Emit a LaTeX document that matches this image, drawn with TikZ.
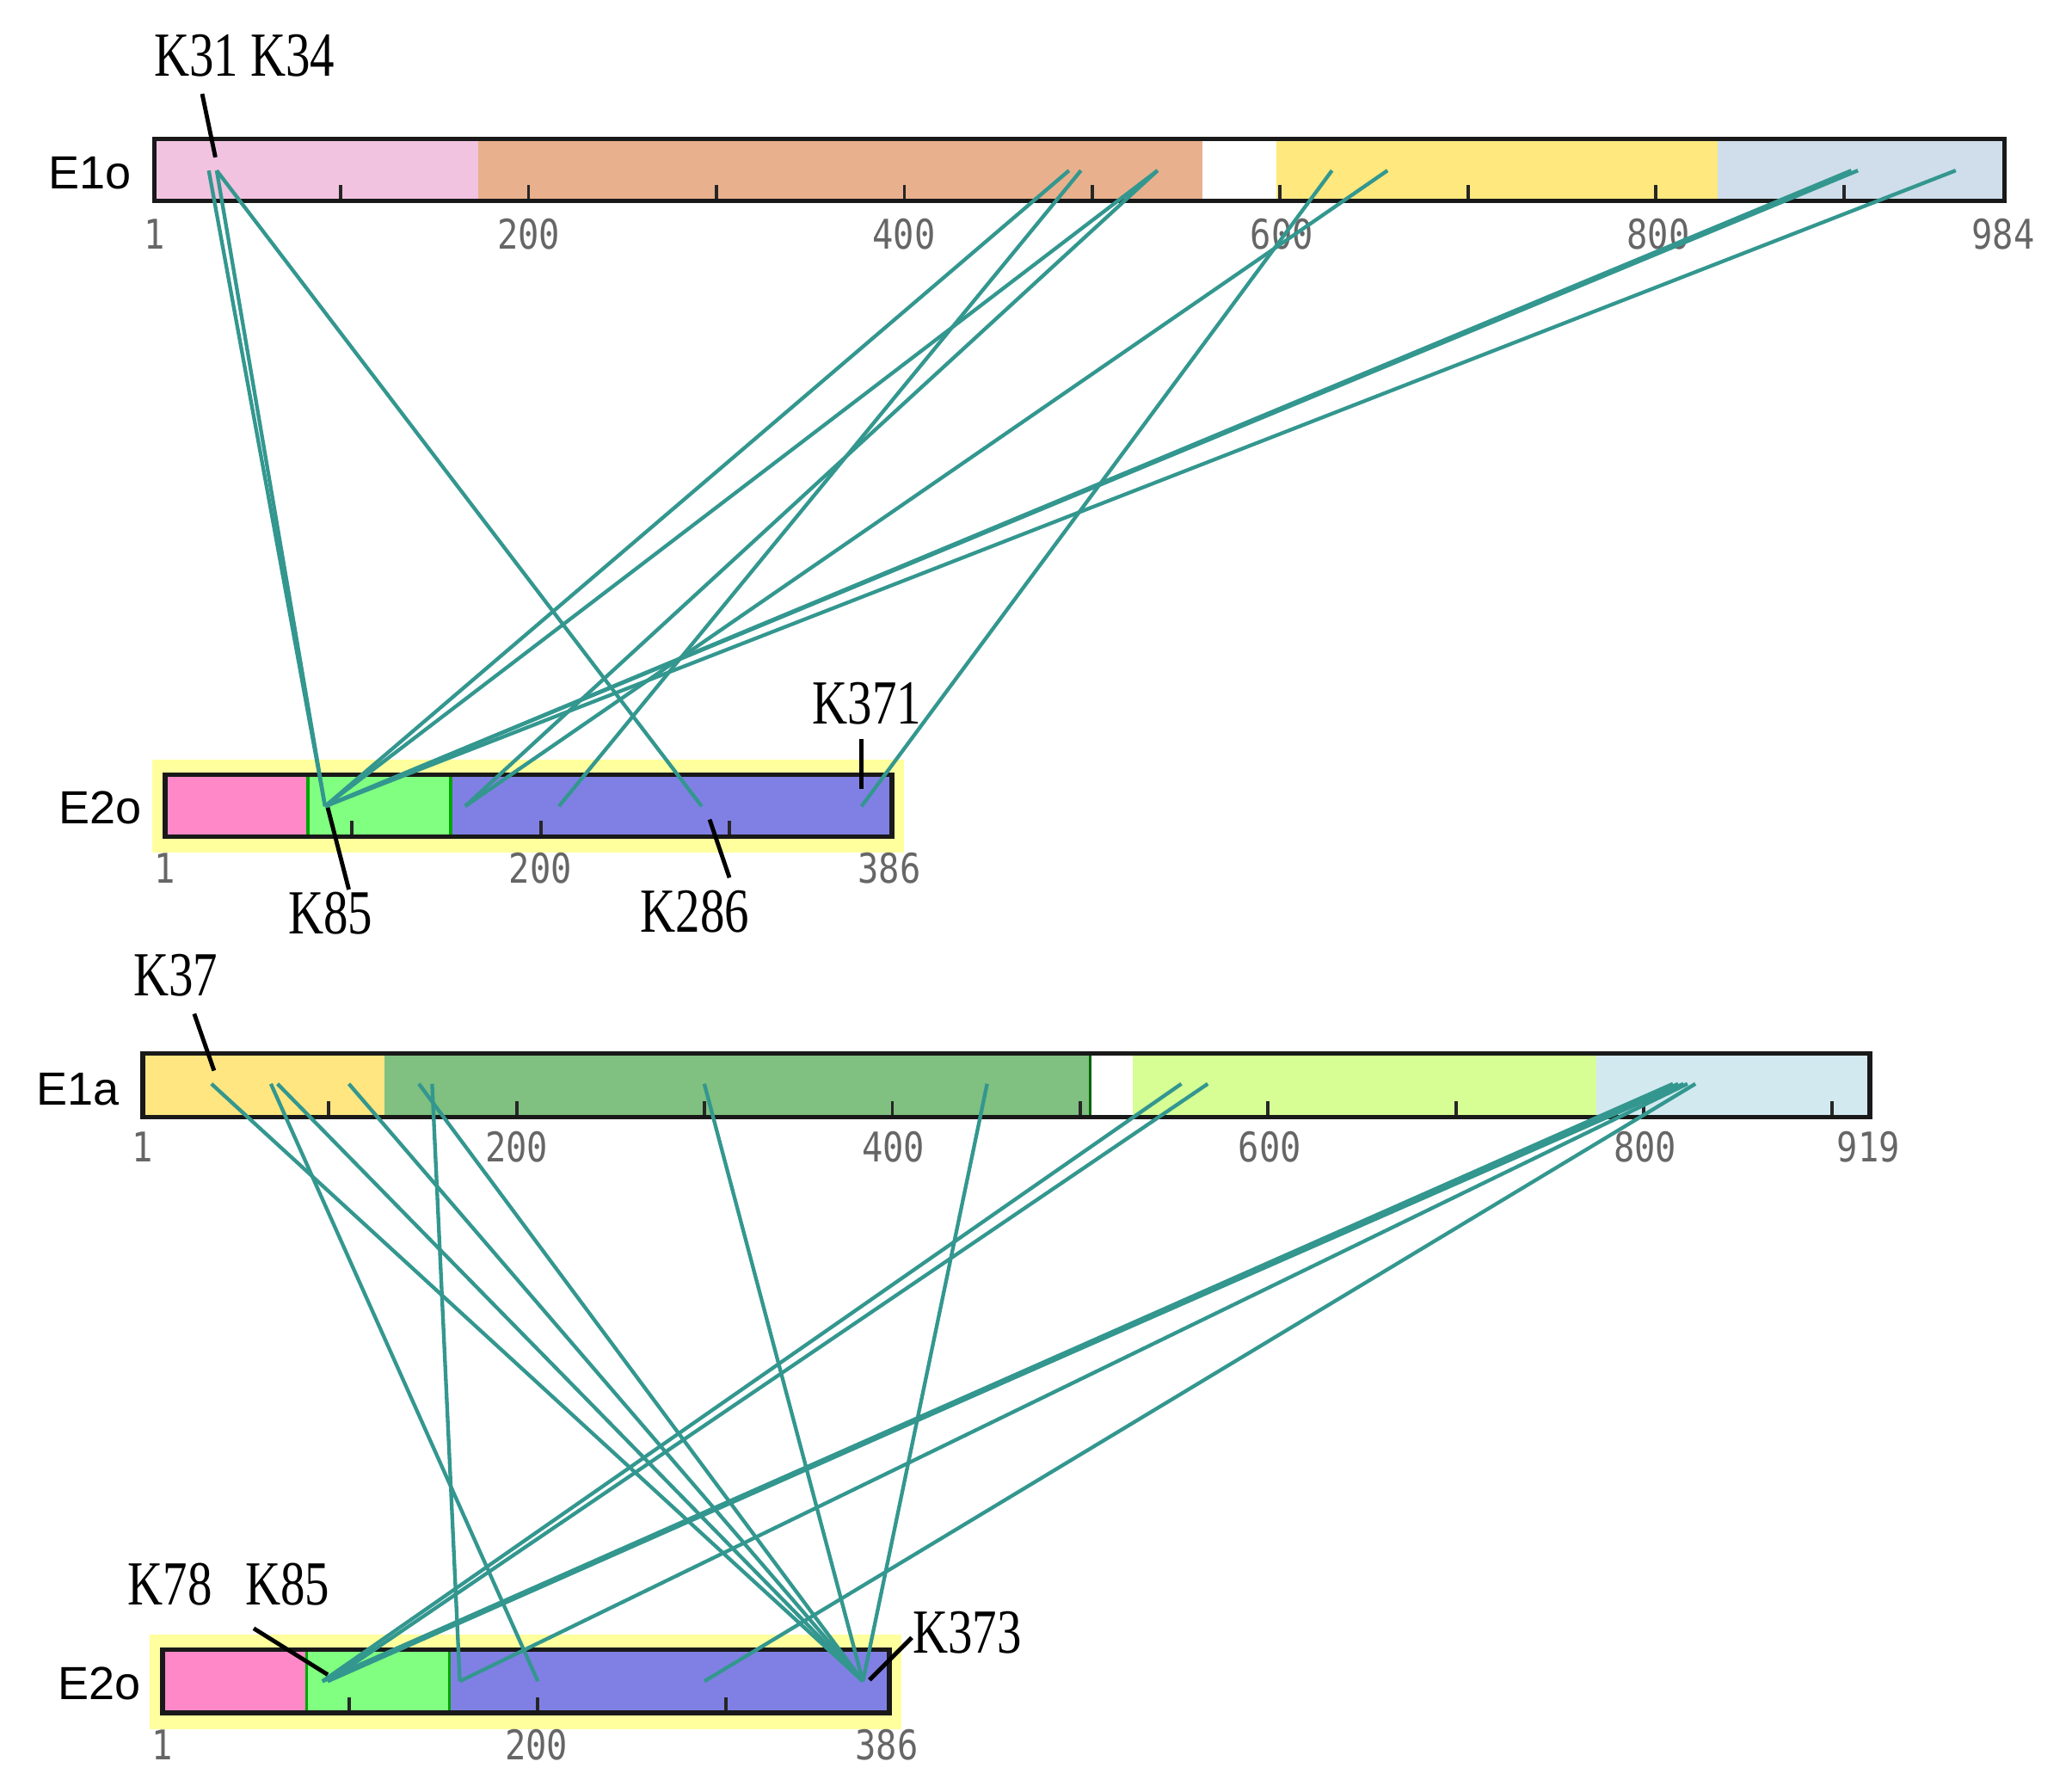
\documentclass[tikz,border=0pt]{standalone}
\usepackage{fontspec}
\setmainfont{Liberation Sans}
\newfontfamily\klabfont[FakeStretch=0.78]{Liberation Serif}
\newfontfamily\numfont[FakeStretch=0.85]{DejaVu Sans Mono}
\usepackage{tikz}
\definecolor{linkteal}{HTML}{33978F}
\definecolor{opink}{HTML}{F2C3E0}
\definecolor{oorange}{HTML}{E8B08C}
\definecolor{oyellow}{HTML}{FFE87E}
\definecolor{oblue}{HTML}{CFDEEA}
\definecolor{epink}{HTML}{FF88C8}
\definecolor{egreen}{HTML}{80FF80}
\definecolor{eblue}{HTML}{8080E4}
\definecolor{ehigh}{HTML}{FFFF9E}
\definecolor{ayellow}{HTML}{FFE680}
\definecolor{agreen}{HTML}{80C080}
\definecolor{alime}{HTML}{D6FE94}
\definecolor{ablue}{HTML}{D2E9F0}

\begin{document}
\begin{tikzpicture}[x=0.01cm,y=-0.01cm,
    bar/.style={draw=black!90,line width=1pt},
    tick/.style={black!85,line width=0.7pt},
    num/.style={text=black!60,font=\numfont\fontsize{8.8}{9}\selectfont,inner sep=0pt},
    chain/.style={font=\fontsize{10}{11}\selectfont,inner sep=0pt},
    klab/.style={font=\klabfont\fontsize{13.5}{14}\selectfont,inner sep=0pt},
    link/.style={draw=linkteal,line width=0.8pt},
    pointer/.style={draw=black,line width=0.9pt}]
  \useasboundingbox (0,0) rectangle (1568,1351);

  \fill[opink] (117,105) rectangle (362,152);
  \fill[oorange] (362,105) rectangle (910,152);
  \fill[white] (910,105) rectangle (966,152);
  \fill[oyellow] (966,105) rectangle (1300,152);
  \fill[oblue] (1300,105) rectangle (1517,152);
  \foreach \k in {1,...,9} \draw[tick] ({117+(100*\k-1)*1.422},152) -- ++(0,-12);
  \draw[bar] (117,105) rectangle (1517,152);

  \fill[ehigh] (115,575) rectangle (684,645);
  \fill[epink] (125,586) rectangle (233,633);
  \fill[egreen] (233,586) rectangle (341,633);
  \fill[eblue] (341,586) rectangle (675,633);
  \draw[green!65!black,line width=0.6pt] (233,586) -- (233,633) (341,586) -- (341,633);
  \foreach \k in {1,2,3} \draw[tick] ({125+(100*\k-1)*1.4286},633) -- ++(0,-12);
  \draw[bar] (125,586) rectangle (675,633);

  \fill[ayellow] (108,797) rectangle (291,845);
  \fill[agreen] (291,797) rectangle (825,845);
  \fill[white] (825,797) rectangle (857,845);
  \fill[alime] (857,797) rectangle (1208,845);
  \fill[ablue] (1208,797) rectangle (1415,845);
  \draw[green!40!black,line width=0.6pt] (825,797) -- (825,845);
  \foreach \k in {1,...,9} \draw[tick] ({108+(100*\k-1)*1.4218},845) -- ++(0,-12);
  \draw[bar] (108,797) rectangle (1415,845);

  \fill[ehigh] (113,1237) rectangle (682,1308);
  \fill[epink] (123,1248) rectangle (232,1296);
  \fill[egreen] (232,1248) rectangle (340,1296);
  \fill[eblue] (340,1248) rectangle (673,1296);
  \draw[green!65!black,line width=0.6pt] (232,1248) -- (232,1296) (340,1248) -- (340,1296);
  \foreach \k in {1,2,3} \draw[tick] ({123+(100*\k-1)*1.426},1296) -- ++(0,-12);
  \draw[bar] (123,1248) rectangle (673,1296);

  \node[chain] (e1o) at (68,131) {E1o};
  \node[chain] (e2o) at (76,611) {E2o};
  \node[chain] (e1a) at (59,824) {E1a};
  \node[chain] (e2ob) at (75,1274) {E2o};

  \node[num] (o1) at (117,177) {1};
  \node[num] (o200) at (400,177) {200};
  \node[num] (o400) at (684,177) {400};
  \node[num] (o600) at (970,177) {600};
  \node[num] (o800) at (1255,177) {800};
  \node[num] (o984) at (1516,177) {984};
  \node[num] (p1) at (125,657) {1};
  \node[num] (p200) at (409,657) {200};
  \node[num] (p386) at (673,657) {386};
  \node[num] (a1) at (108,868) {1};
  \node[num] (a200) at (391,868) {200};
  \node[num] (a400) at (676,868) {400};
  \node[num] (a600) at (961,868) {600};
  \node[num] (a800) at (1245,868) {800};
  \node[num] (a919) at (1414,868) {919};
  \node[num] (q1) at (123,1320) {1};
  \node[num] (q200) at (406,1320) {200};
  \node[num] (q386) at (671,1320) {386};

  \coordinate (so31) at (158,129);
  \coordinate (so34) at (164,129);
  \coordinate (so488) at (809,129);
  \coordinate (so494) at (818,129);
  \coordinate (so535) at (876,129);
  \coordinate (so628) at (1008,129);
  \coordinate (so657) at (1050,129);
  \coordinate (so903) at (1401,129);
  \coordinate (so907) at (1406,129);
  \coordinate (so960) at (1480,129);
  \coordinate (sp85) at (246,610);
  \coordinate (sp160) at (352,610);
  \coordinate (sp210) at (423,610);
  \coordinate (sp286) at (531,610);
  \coordinate (sp371) at (652,610);

  \coordinate (sa37) at (160,820);
  \coordinate (sa69) at (205,820);
  \coordinate (sa73) at (210,820);
  \coordinate (sa111) at (264,820);
  \coordinate (sa148) at (317,820);
  \coordinate (sa155) at (327,820);
  \coordinate (sa300) at (533,820);
  \coordinate (sa450) at (747,820);
  \coordinate (sa554) at (894,820);
  \coordinate (sa568) at (914,820);
  \coordinate (sa817) at (1266,820);
  \coordinate (sa820) at (1270,820);
  \coordinate (sa822) at (1274,820);
  \coordinate (sa824) at (1277,820);
  \coordinate (sa827) at (1283,820);
  \coordinate (sq78) at (244,1272);
  \coordinate (sq85) at (248,1272);
  \coordinate (sq158) at (348,1272);
  \coordinate (sq200) at (407,1272);
  \coordinate (sq287) at (533,1272);
  \coordinate (sq373) at (653,1272);

  \path[link]
    (so31) edge (sp85)
    (so34) edge (sp85)
           edge (sp286)
    (so488) edge (sp85)
    (so494) edge (sp210)
    (so535) edge (sp85)
            edge (sp160)
    (so628) edge (sp371)
    (so657) edge (sp160)
    (so903) edge (sp85)
    (so907) edge (sp85)
    (so960) edge (sp85);

  \path[link]
    (sa37) edge (sq373)
    (sa69) edge (sq200)
    (sa73) edge (sq373)
    (sa111) edge (sq373)
    (sa148) edge (sq373)
    (sa155) edge (sq158)
    (sa300) edge (sq373)
    (sa450) edge (sq373)
    (sa554) edge (sq78)
    (sa568) edge (sq85)
    (sa817) edge (sq78)
    (sa820) edge (sq85)
    (sa822) edge (sq78)
    (sa824) edge (sq158)
    (sa827) edge (sq287);

  \node[klab] (k3134) at (185,42) {K31 K34};
  \node[klab] (k85) at (250,691) {K85};
  \node[klab] (k286) at (526,690) {K286};
  \node[klab] (k371) at (656,532) {K371};
  \node[klab] (k37) at (133,738) {K37};
  \node[klab] (k7885) at (173,1199) {K78\hspace{0.28em}\hspace{0.25em}K85};
  \node[klab] (k373) at (732,1235) {K373};

  \coordinate (t3134) at (153,71);
  \coordinate (h3134) at (163,119);
  \coordinate (t85) at (264,673);
  \coordinate (h85) at (248,611);
  \coordinate (t286) at (552,664);
  \coordinate (h286) at (537,620);
  \coordinate (t371) at (652,559);
  \coordinate (h371) at (652,597);
  \coordinate (t37) at (147,767);
  \coordinate (h37) at (162,810);
  \coordinate (t7885) at (192,1232);
  \coordinate (h7885) at (248,1267);
  \coordinate (t373) at (690,1239);
  \coordinate (h373) at (658,1271);
  \draw[pointer] (t3134) -- (h3134);
  \draw[pointer] (t85) -- (h85);
  \draw[pointer] (t286) -- (h286);
  \draw[pointer] (t371) -- (h371);
  \draw[pointer] (t37) -- (h37);
  \draw[pointer] (t7885) -- (h7885);
  \draw[pointer] (t373) -- (h373);
\end{tikzpicture}
\end{document}
